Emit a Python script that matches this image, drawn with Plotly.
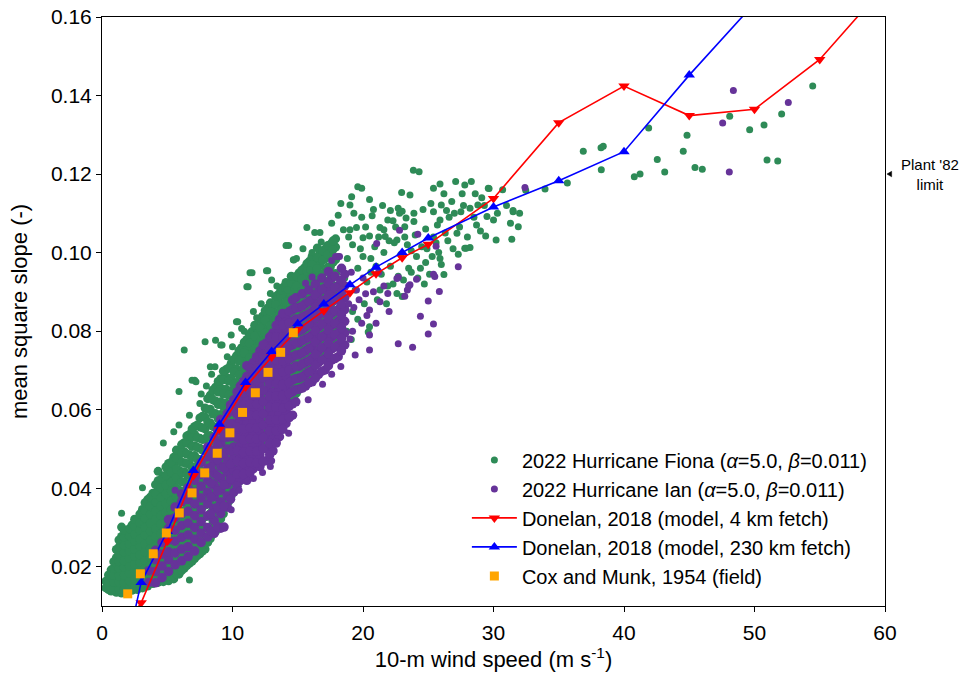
import plotly.graph_objects as go

# ---------------- data ----------------
# Hurricane Fiona, dense part: (wind speed column, list of mss values)
fiona_dense_cols = [
    (0.3, [0.0146, 0.0163]),
    (0.7, [0.0138, 0.0156, 0.0171, 0.0192]),
    (1.1, [0.0135, 0.0152, 0.0170, 0.0186, 0.0207, 0.0223, 0.0244]),
    (1.5, [0.0133, 0.0149, 0.0168, 0.0185, 0.0203, 0.0221, 0.0239, 0.0258, 0.0277, 0.0301]),
    (1.9, [0.0137, 0.0155, 0.0173, 0.0189, 0.0209, 0.0226, 0.0247, 0.0264, 0.0285]),
    (2.3, [0.0140, 0.0156, 0.0176, 0.0193, 0.0214, 0.0231, 0.0252, 0.0269, 0.0291, 0.0306]),
    (2.7, [0.0142, 0.0161, 0.0178, 0.0199, 0.0216, 0.0237, 0.0254, 0.0276, 0.0294, 0.0317]),
    (3.1, [0.0146, 0.0163, 0.0184, 0.0202, 0.0223, 0.0241, 0.0263, 0.0281, 0.0304, 0.0323, 0.0346]),
    (3.5, [0.0151, 0.0168, 0.0190, 0.0208, 0.0230, 0.0248, 0.0270, 0.0289, 0.0312, 0.0331, 0.0355, 0.0371]),
    (3.9, [0.0157, 0.0175, 0.0197, 0.0215, 0.0237, 0.0256, 0.0279, 0.0298, 0.0321, 0.0341, 0.0365, 0.0387]),
    (4.3, [0.0160, 0.0180, 0.0201, 0.0220, 0.0243, 0.0262, 0.0286, 0.0306, 0.0330, 0.0350, 0.0374, 0.0395, 0.0419, 0.0443]),
    (4.7, [0.0162, 0.0184, 0.0204, 0.0228, 0.0248, 0.0272, 0.0292, 0.0317, 0.0338, 0.0363, 0.0384, 0.0409, 0.0431]),
    (5.1, [0.0164, 0.0187, 0.0208, 0.0233, 0.0254, 0.0279, 0.0300, 0.0326, 0.0348, 0.0374, 0.0396, 0.0422, 0.0445, 0.0463]),
    (5.5, [0.0169, 0.0192, 0.0215, 0.0237, 0.0263, 0.0285, 0.0311, 0.0333, 0.0359, 0.0381, 0.0408, 0.0431, 0.0458, 0.0479]),
    (5.9, [0.0181, 0.0202, 0.0228, 0.0250, 0.0276, 0.0298, 0.0324, 0.0346, 0.0372, 0.0395, 0.0422, 0.0445, 0.0472, 0.0495]),
    (6.3, [0.0196, 0.0218, 0.0244, 0.0266, 0.0292, 0.0315, 0.0342, 0.0365, 0.0392, 0.0415, 0.0442, 0.0465, 0.0493, 0.0516]),
    (6.7, [0.0209, 0.0231, 0.0258, 0.0281, 0.0308, 0.0331, 0.0358, 0.0381, 0.0409, 0.0433, 0.0461, 0.0485, 0.0513, 0.0537]),
    (7.1, [0.0221, 0.0245, 0.0273, 0.0297, 0.0325, 0.0349, 0.0377, 0.0401, 0.0429, 0.0454, 0.0483, 0.0508, 0.0537, 0.0557]),
    (7.5, [0.0233, 0.0257, 0.0286, 0.0311, 0.0340, 0.0365, 0.0394, 0.0419, 0.0448, 0.0473, 0.0502, 0.0527, 0.0556, 0.0579]),
    (7.9, [0.0245, 0.0271, 0.0301, 0.0327, 0.0357, 0.0383, 0.0413, 0.0439, 0.0469, 0.0495, 0.0525, 0.0551, 0.0581, 0.0604]),
]

# Hurricane Fiona, dense part, in-between columns
fiona_dense_fill = [
    (0.5, [0.0142, 0.0160, 0.0179]),
    (0.9, [0.0144, 0.0161, 0.0179, 0.0196, 0.0213]),
    (1.3, [0.0142, 0.0161, 0.0177, 0.0196, 0.0213, 0.0232, 0.0249, 0.0268]),
    (1.7, [0.0143, 0.0160, 0.0179, 0.0198, 0.0215, 0.0236, 0.0254, 0.0275, 0.0292]),
    (2.1, [0.0146, 0.0164, 0.0183, 0.0201, 0.0221, 0.0240, 0.0258, 0.0279, 0.0297]),
    (2.5, [0.0149, 0.0167, 0.0188, 0.0206, 0.0226, 0.0244, 0.0265, 0.0283, 0.0303, 0.0321]),
    (2.9, [0.0152, 0.0172, 0.0190, 0.0211, 0.0230, 0.0252, 0.0270, 0.0293, 0.0312, 0.0334]),
    (3.3, [0.0157, 0.0175, 0.0197, 0.0216, 0.0238, 0.0258, 0.0281, 0.0300, 0.0323, 0.0343, 0.0363]),
    (3.7, [0.0161, 0.0181, 0.0204, 0.0224, 0.0247, 0.0267, 0.0291, 0.0310, 0.0334, 0.0353, 0.0377]),
    (4.1, [0.0166, 0.0189, 0.0209, 0.0233, 0.0253, 0.0277, 0.0297, 0.0321, 0.0341, 0.0365, 0.0385, 0.0409]),
    (4.5, [0.0171, 0.0192, 0.0217, 0.0238, 0.0263, 0.0284, 0.0309, 0.0330, 0.0355, 0.0376, 0.0401, 0.0422]),
    (4.9, [0.0174, 0.0198, 0.0220, 0.0245, 0.0267, 0.0292, 0.0314, 0.0339, 0.0361, 0.0386, 0.0408, 0.0433, 0.0454]),
    (5.3, [0.0176, 0.0201, 0.0223, 0.0249, 0.0271, 0.0297, 0.0319, 0.0345, 0.0367, 0.0393, 0.0415, 0.0441, 0.0466]),
    (5.7, [0.0182, 0.0204, 0.0231, 0.0253, 0.0280, 0.0302, 0.0329, 0.0351, 0.0378, 0.0400, 0.0427, 0.0449, 0.0476, 0.0497]),
    (6.1, [0.0190, 0.0216, 0.0239, 0.0266, 0.0289, 0.0316, 0.0339, 0.0366, 0.0389, 0.0416, 0.0439, 0.0466, 0.0489, 0.0511]),
    (6.5, [0.0203, 0.0227, 0.0255, 0.0279, 0.0307, 0.0331, 0.0359, 0.0383, 0.0411, 0.0435, 0.0463, 0.0487, 0.0515, 0.0533]),
    (6.9, [0.0214, 0.0241, 0.0266, 0.0294, 0.0319, 0.0347, 0.0372, 0.0400, 0.0425, 0.0453, 0.0478, 0.0506, 0.0531, 0.0551]),
    (7.3, [0.0228, 0.0254, 0.0284, 0.0309, 0.0339, 0.0364, 0.0394, 0.0419, 0.0449, 0.0474, 0.0504, 0.0529, 0.0561]),
    (7.7, [0.0240, 0.0269, 0.0296, 0.0326, 0.0353, 0.0383, 0.0410, 0.0440, 0.0467, 0.0497, 0.0524, 0.0554, 0.0583]),
]

# Hurricane Fiona, middle part
fiona_mid_cols = [
    (8.3, [0.0272, 0.0301, 0.0336, 0.0368, 0.0402, 0.0433, 0.0467, 0.0499, 0.0534, 0.0566, 0.0601, 0.0637]),
    (8.7, [0.0290, 0.0323, 0.0355, 0.0390, 0.0421, 0.0456, 0.0488, 0.0523, 0.0555, 0.0590, 0.0622, 0.0657]),
    (9.1, [0.0322, 0.0354, 0.0389, 0.0420, 0.0455, 0.0487, 0.0522, 0.0553, 0.0588, 0.0620, 0.0655, 0.0679]),
    (9.5, [0.0351, 0.0385, 0.0416, 0.0451, 0.0483, 0.0518, 0.0550, 0.0585, 0.0617, 0.0652, 0.0683, 0.0702]),
    (9.9, [0.0381, 0.0412, 0.0447, 0.0479, 0.0514, 0.0546, 0.0581, 0.0613, 0.0648, 0.0680, 0.0718]),
    (10.3, [0.0401, 0.0436, 0.0468, 0.0503, 0.0535, 0.0570, 0.0602, 0.0637, 0.0669, 0.0704, 0.0737]),
    (10.7, [0.0431, 0.0463, 0.0498, 0.0530, 0.0565, 0.0597, 0.0632, 0.0664, 0.0699, 0.0731, 0.0758]),
    (11.1, [0.0452, 0.0487, 0.0519, 0.0554, 0.0586, 0.0621, 0.0653, 0.0688, 0.0720, 0.0755, 0.0779]),
    (11.5, [0.0473, 0.0505, 0.0540, 0.0572, 0.0607, 0.0639, 0.0674, 0.0706, 0.0741, 0.0773, 0.0799]),
    (11.9, [0.0492, 0.0527, 0.0559, 0.0594, 0.0626, 0.0661, 0.0693, 0.0728, 0.0760, 0.0795]),
    (12.3, [0.0512, 0.0544, 0.0579, 0.0611, 0.0646, 0.0678, 0.0713, 0.0745, 0.0780, 0.0812, 0.0838]),
    (12.7, [0.0532, 0.0567, 0.0599, 0.0634, 0.0666, 0.0701, 0.0733, 0.0768, 0.0800, 0.0835, 0.0859]),
    (13.1, [0.0553, 0.0585, 0.0620, 0.0652, 0.0687, 0.0719, 0.0754, 0.0786, 0.0821, 0.0853]),
    (13.5, [0.0572, 0.0607, 0.0639, 0.0674, 0.0706, 0.0741, 0.0773, 0.0808, 0.0840, 0.0875, 0.0893]),
    (13.9, [0.0593, 0.0625, 0.0660, 0.0692, 0.0727, 0.0759, 0.0794, 0.0826, 0.0861, 0.0893, 0.0912]),
    (14.3, [0.0612, 0.0647, 0.0679, 0.0714, 0.0746, 0.0781, 0.0813, 0.0848, 0.0880, 0.0915]),
    (14.7, [0.0633, 0.0665, 0.0700, 0.0732, 0.0767, 0.0799, 0.0834, 0.0866, 0.0901, 0.0933]),
    (15.1, [0.0652, 0.0687, 0.0719, 0.0754, 0.0786, 0.0821, 0.0853, 0.0888, 0.0920, 0.0948]),
    (15.5, [0.0672, 0.0704, 0.0739, 0.0771, 0.0806, 0.0838, 0.0873, 0.0905, 0.0940, 0.0961]),
    (15.9, [0.0692, 0.0727, 0.0759, 0.0794, 0.0826, 0.0861, 0.0893, 0.0928, 0.0960, 0.0978]),
    (16.3, [0.0712, 0.0744, 0.0779, 0.0811, 0.0846, 0.0878, 0.0913, 0.0945, 0.0980]),
    (16.7, [0.0732, 0.0767, 0.0799, 0.0834, 0.0866, 0.0901, 0.0933, 0.0968, 0.0997]),
    (17.1, [0.0751, 0.0783, 0.0818, 0.0850, 0.0885, 0.0917, 0.0952, 0.0984, 0.1009]),
    (17.5, [0.0763, 0.0798, 0.0830, 0.0865, 0.0897, 0.0932, 0.0964, 0.0999, 0.1021]),
    (17.9, [0.0781, 0.0813, 0.0848, 0.0880, 0.0915, 0.0947, 0.0982, 0.1014, 0.1035]),
]

# Hurricane Fiona, middle part, in-between columns
fiona_mid_fill = [
    (8.1, [0.0262, 0.0297, 0.0329, 0.0365, 0.0397, 0.0433, 0.0465, 0.0501, 0.0533, 0.0569, 0.0601, 0.0628]),
    (8.5, [0.0284, 0.0317, 0.0353, 0.0385, 0.0421, 0.0453, 0.0489, 0.0521, 0.0557, 0.0589, 0.0625, 0.0650]),
    (8.9, [0.0306, 0.0341, 0.0373, 0.0409, 0.0441, 0.0477, 0.0509, 0.0545, 0.0577, 0.0613, 0.0645, 0.0672]),
    (9.3, [0.0335, 0.0368, 0.0404, 0.0436, 0.0472, 0.0504, 0.0540, 0.0572, 0.0608, 0.0640, 0.0676, 0.0698]),
    (9.7, [0.0366, 0.0401, 0.0433, 0.0469, 0.0501, 0.0537, 0.0569, 0.0605, 0.0637, 0.0673, 0.0706]),
    (10.1, [0.0392, 0.0425, 0.0461, 0.0493, 0.0529, 0.0561, 0.0597, 0.0629, 0.0665, 0.0697, 0.0728]),
    (10.5, [0.0417, 0.0452, 0.0484, 0.0520, 0.0552, 0.0588, 0.0620, 0.0656, 0.0688, 0.0724, 0.0750]),
    (10.9, [0.0440, 0.0473, 0.0509, 0.0541, 0.0577, 0.0609, 0.0645, 0.0677, 0.0713, 0.0745, 0.0772]),
    (11.3, [0.0462, 0.0497, 0.0529, 0.0565, 0.0597, 0.0633, 0.0665, 0.0701, 0.0733, 0.0769, 0.0792]),
    (11.7, [0.0482, 0.0515, 0.0551, 0.0583, 0.0619, 0.0651, 0.0687, 0.0719, 0.0755, 0.0787, 0.0815]),
    (12.1, [0.0502, 0.0537, 0.0569, 0.0605, 0.0637, 0.0673, 0.0705, 0.0741, 0.0773, 0.0809, 0.0830]),
    (12.5, [0.0522, 0.0555, 0.0591, 0.0623, 0.0659, 0.0691, 0.0727, 0.0759, 0.0795, 0.0827, 0.0852]),
    (12.9, [0.0543, 0.0578, 0.0610, 0.0646, 0.0678, 0.0714, 0.0746, 0.0782, 0.0814, 0.0850, 0.0872]),
    (13.3, [0.0563, 0.0596, 0.0632, 0.0664, 0.0700, 0.0732, 0.0768, 0.0800, 0.0836, 0.0868, 0.0888]),
    (13.7, [0.0583, 0.0618, 0.0650, 0.0686, 0.0718, 0.0754, 0.0786, 0.0822, 0.0854, 0.0890, 0.0905]),
    (14.1, [0.0602, 0.0635, 0.0671, 0.0703, 0.0739, 0.0771, 0.0807, 0.0839, 0.0875, 0.0906, 0.0924]),
    (14.5, [0.0622, 0.0657, 0.0689, 0.0725, 0.0757, 0.0793, 0.0825, 0.0861, 0.0893, 0.0922, 0.0940]),
    (14.9, [0.0642, 0.0675, 0.0711, 0.0743, 0.0779, 0.0811, 0.0847, 0.0879, 0.0915, 0.0940]),
    (15.3, [0.0662, 0.0697, 0.0729, 0.0765, 0.0797, 0.0833, 0.0865, 0.0901, 0.0933, 0.0955]),
    (15.7, [0.0682, 0.0715, 0.0751, 0.0783, 0.0819, 0.0851, 0.0887, 0.0919, 0.0952, 0.0972]),
    (16.1, [0.0702, 0.0737, 0.0769, 0.0805, 0.0837, 0.0873, 0.0905, 0.0941, 0.0970, 0.0990]),
    (16.5, [0.0722, 0.0755, 0.0791, 0.0823, 0.0859, 0.0891, 0.0927, 0.0959, 0.0988, 0.1012]),
    (16.9, [0.0742, 0.0777, 0.0809, 0.0845, 0.0877, 0.0913, 0.0945, 0.0981, 0.1005]),
    (17.3, [0.0758, 0.0791, 0.0827, 0.0859, 0.0895, 0.0927, 0.0963, 0.0995, 0.1018]),
    (17.7, [0.0772, 0.0807, 0.0839, 0.0875, 0.0907, 0.0943, 0.0975, 0.1008, 0.1030]),
]

# Hurricane Fiona, sparse points (u, mss)
fiona_sparse = [
    (1.5, 0.0336), (3.1, 0.0401), (4.7, 0.0515), (5.5, 0.0544), (5.9, 0.0561), (5.9, 0.0646),
    (6.3, 0.0752), (6.7, 0.0586), (6.7, 0.0166), (7.1, 0.0675), (7.5, 0.0616), (7.9, 0.0773),
    (8.3, 0.0709), (8.7, 0.0777), (9.1, 0.0765), (9.9, 0.0790), (10.3, 0.0824), (10.7, 0.0807),
    (11.1, 0.0913), (11.5, 0.0949), (12.7, 0.0954), (14.3, 0.1018), (14.7, 0.0981), (16.3, 0.1051),
    (8.0, 0.0660), (8.4, 0.0690), (9.6, 0.0735), (10.0, 0.0760), (10.9, 0.0800), (11.6, 0.0850),
    (12.2, 0.0870), (13.0, 0.0930), (13.4, 0.0915), (14.9, 0.0985), (15.4, 0.1010), (7.6, 0.0640),
    (15.7, 0.1064), (16.7, 0.1051), (17.6, 0.1075), (18.3, 0.1125), (18.5, 0.1058),
    (19.0, 0.1121), (19.0, 0.1058), (19.13, 0.1142), (19.5, 0.1064), (19.6, 0.1168),
    (19.9, 0.1164), (20.0, 0.1038), (20.5, 0.1135), (20.5, 0.1042), (20.7, 0.1094),
    (21.3, 0.1064), (21.6, 0.1058), (21.7, 0.1041), (21.9, 0.1083), (22.1, 0.1107),
    (22.3, 0.1081), (22.6, 0.1032), (22.7, 0.1113), (22.8, 0.1100), (22.96, 0.1153),
    (23.2, 0.1066), (23.3, 0.1088), (23.6, 0.1147), (23.86, 0.1210), (23.9, 0.1079),
    (24.3, 0.1206), (25.4, 0.1164), (25.4, 0.1104), (25.9, 0.1175), (25.9, 0.1083),
    (26.0, 0.1121), (26.4, 0.1107), (27.0, 0.1100), (27.1, 0.1181), (27.2, 0.1049),
    (27.5, 0.1104), (27.8, 0.1172), (28.2, 0.1113), (28.3, 0.1181), (28.7, 0.1070),
    (28.8, 0.1121), (29.4, 0.1042), (29.5, 0.1092), (29.6, 0.1164), (30.0, 0.1083),
    (30.2, 0.1032), (31.3, 0.1075), (31.4, 0.1034), (31.5, 0.1104), (31.5, 0.1107),
    (31.9, 0.1066), (27.8, 0.1011), (28.2, 0.1013), (27.3, 0.0996), (25.8, 0.1000),
    (24.4, 0.0960), (24.8, 0.0975), (25.3, 0.0990), (25.9, 0.0985), (26.2, 0.0944),
    (22.6, 0.0896), (23.0, 0.0888), (21.3, 0.0905), (20.5, 0.0811), (20.4, 0.0798),
    (18.75, 0.0800), (19.1, 0.0779), (27.9, 0.1011),
    (18.3, 0.0830), (18.4, 0.0880), (18.6, 0.0935), (18.8, 0.0985), (19.2, 0.0850),
    (19.4, 0.0905), (19.6, 0.0960), (19.8, 0.1010), (20.1, 0.0870), (20.3, 0.0925),
    (20.6, 0.0985), (20.9, 0.1015), (21.1, 0.0880), (21.4, 0.0945), (21.6, 0.1000),
    (21.9, 0.0915), (22.1, 0.0965), (22.4, 0.1025), (22.7, 0.0940), (22.9, 0.0995),
    (23.2, 0.1040), (23.5, 0.0960), (23.7, 0.1005), (24.0, 0.1045), (24.2, 0.0935),
    (24.5, 0.1015), (24.8, 0.1060), (25.1, 0.0945), (25.4, 0.1040), (25.7, 0.1070),
    (26.0, 0.0970), (26.3, 0.1050), (26.6, 0.1090), (26.9, 0.1010), (27.4, 0.1065),
    (27.7, 0.1120), (28.0, 0.1040), (28.5, 0.1090), (29.0, 0.1055), (29.1, 0.1140),
    (30.3, 0.1100), (30.7, 0.1160), (31.0, 0.1120), (32.0, 0.1100),
    (18.1, 0.1095), (18.9, 0.1040), (19.3, 0.1100), (19.9, 0.1090), (20.2, 0.1065),
    (20.8, 0.1110), (21.0, 0.0965), (21.5, 0.1120), (22.0, 0.1030), (22.5, 0.1065),
    (23.0, 0.1105), (23.4, 0.1020), (23.9, 0.1100), (24.1, 0.0990), (24.6, 0.1110),
    (24.9, 0.1010), (25.2, 0.1125), (25.6, 0.1025), (26.2, 0.1150), (26.5, 0.1030),
    (26.8, 0.1130), (27.6, 0.1150), (28.6, 0.1150), (29.3, 0.1120), (18.0, 0.0900),
    (18.6, 0.0860), (19.6, 0.0830), (20.6, 0.0950), (21.8, 0.0870), (22.3, 0.0920),
    (23.1, 0.0930), (23.7, 0.0950), (24.7, 0.0920), (21.2, 0.1040), (20.0, 0.0990),
    (19.2, 0.1020),
    (29.66, 0.1163), (32.47, 0.1159), (33.95, 0.1162), (35.66, 0.1177), (36.88, 0.1258),
    (38.24, 0.1267), (38.41, 0.1271), (38.26, 0.1211), (40.79, 0.1193), (41.23, 0.1200),
    (41.89, 0.1317), (42.55, 0.1237), (43.12, 0.1205), (44.54, 0.1258), (44.83, 0.1299),
    (45.44, 0.1217), (46.0, 0.1212), (48.1, 0.1347), (49.63, 0.1313), (50.73, 0.1325),
    (50.96, 0.1236), (51.78, 0.1233), (52.08, 0.1353), (54.46, 0.1424),
    (6.9, 0.0675), (7.2, 0.0671), (8.66, 0.0709), (9.2, 0.0765), (10.4, 0.0824),
    (11.2, 0.0913), (11.34, 0.0949), (11.85, 0.0834), (12.6, 0.0954), (12.9, 0.0896),
    (14.1, 0.1018), (14.2, 0.0905), (14.66, 0.0982), (15.9, 0.0956), (16.1, 0.1000),
    (16.8, 0.1027),
]

# Hurricane Ian, band below the model curves
ian_cols = [
    (3.6, [0.0160, 0.0190]),
    (4.1, [0.0159, 0.0188, 0.0218, 0.0242]),
    (4.6, [0.0172, 0.0202, 0.0232, 0.0262]),
    (5.1, [0.0188, 0.0218, 0.0238, 0.0268, 0.0298, 0.0320]),
    (5.6, [0.0205, 0.0235, 0.0265, 0.0293, 0.0325, 0.0352]),
    (6.1, [0.0215, 0.0245, 0.0275, 0.0305, 0.0335, 0.0365, 0.0385]),
    (6.6, [0.0226, 0.0251, 0.0281, 0.0311, 0.0341, 0.0371, 0.0401]),
    (7.1, [0.0240, 0.0270, 0.0300, 0.0330, 0.0360, 0.0390, 0.0420, 0.0440]),
    (7.6, [0.0262, 0.0285, 0.0315, 0.0345, 0.0375, 0.0405, 0.0435, 0.0465]),
    (8.1, [0.0276, 0.0300, 0.0330, 0.0360, 0.0390, 0.0420, 0.0450, 0.0480, 0.0505]),
    (8.6, [0.0285, 0.0318, 0.0348, 0.0378, 0.0408, 0.0438, 0.0468, 0.0498, 0.0530]),
    (9.1, [0.0298, 0.0335, 0.0365, 0.0395, 0.0425, 0.0455, 0.0485, 0.0515, 0.0545, 0.0575]),
    (9.6, [0.0352, 0.0380, 0.0410, 0.0440, 0.0470, 0.0500, 0.0530, 0.0560, 0.0590]),
    (10.1, [0.0390, 0.0420, 0.0446, 0.0475, 0.0505, 0.0535, 0.0565, 0.0595, 0.0625]),
    (10.6, [0.0420, 0.0450, 0.0480, 0.0510, 0.0540, 0.0570, 0.0600, 0.0630, 0.0660]),
    (11.1, [0.0420, 0.0446, 0.0475, 0.0505, 0.0535, 0.0565, 0.0595, 0.0625, 0.0655, 0.0685, 0.0712]),
    (11.6, [0.0450, 0.0480, 0.0510, 0.0540, 0.0570, 0.0600, 0.0630, 0.0660, 0.0690, 0.0720]),
    (12.1, [0.0455, 0.0485, 0.0515, 0.0545, 0.0575, 0.0605, 0.0635, 0.0665, 0.0695, 0.0725, 0.0750]),
    (12.6, [0.0470, 0.0500, 0.0533, 0.0560, 0.0590, 0.0620, 0.0650, 0.0680, 0.0710, 0.0740, 0.0770]),
    (13.1, [0.0495, 0.0525, 0.0555, 0.0585, 0.0615, 0.0645, 0.0675, 0.0705, 0.0735, 0.0765, 0.0795]),
    (13.6, [0.0531, 0.0560, 0.0590, 0.0620, 0.0650, 0.0680, 0.0710, 0.0740, 0.0770, 0.0800, 0.0830]),
    (14.1, [0.0565, 0.0595, 0.0625, 0.0655, 0.0685, 0.0715, 0.0745, 0.0775, 0.0805, 0.0835]),
    (14.6, [0.0586, 0.0615, 0.0645, 0.0675, 0.0705, 0.0735, 0.0765, 0.0795, 0.0825, 0.0855, 0.0879]),
    (15.1, [0.0652, 0.0680, 0.0710, 0.0740, 0.0770, 0.0800, 0.0830, 0.0860]),
    (15.6, [0.0660, 0.0690, 0.0720, 0.0750, 0.0780, 0.0810, 0.0840, 0.0870]),
    (16.1, [0.0671, 0.0700, 0.0730, 0.0760, 0.0790, 0.0820, 0.0850, 0.0880]),
    (16.6, [0.0690, 0.0720, 0.0750, 0.0780, 0.0810, 0.0840, 0.0870, 0.0900]),
    (17.1, [0.0701, 0.0730, 0.0760, 0.0790, 0.0820, 0.0850, 0.0880, 0.0910]),
    (17.6, [0.0726, 0.0755, 0.0785, 0.0815, 0.0845, 0.0875, 0.0905, 0.0935]),
    (18.1, [0.0735, 0.0765, 0.0795, 0.0825, 0.0855, 0.0885, 0.0915]),
    (18.6, [0.0765, 0.0795, 0.0825, 0.0855, 0.0885, 0.0915, 0.0945]),
]

# Hurricane Ian, in-between columns
ian_fill = [
    (8.35, [0.0290, 0.0334, 0.0377, 0.0413, 0.0454, 0.0490]),
    (8.85, [0.0302, 0.0351, 0.0393, 0.0431, 0.0473, 0.0511, 0.0548]),
    (9.35, [0.0301, 0.0354, 0.0409, 0.0451, 0.0489, 0.0531, 0.0569]),
    (9.85, [0.0372, 0.0424, 0.0461, 0.0494, 0.0531, 0.0564, 0.0601, 0.0612]),
    (10.35, [0.0405, 0.0436, 0.0468, 0.0496, 0.0528, 0.0556, 0.0588, 0.0616, 0.0645]),
    (10.85, [0.0435, 0.0463, 0.0491, 0.0523, 0.0551, 0.0583, 0.0611, 0.0643, 0.0672]),
    (11.35, [0.0440, 0.0466, 0.0494, 0.0526, 0.0554, 0.0586, 0.0614, 0.0646, 0.0674, 0.0705]),
    (11.85, [0.0465, 0.0494, 0.0526, 0.0554, 0.0586, 0.0614, 0.0646, 0.0674, 0.0706, 0.0735]),
    (12.35, [0.0468, 0.0501, 0.0529, 0.0561, 0.0589, 0.0621, 0.0649, 0.0681, 0.0709, 0.0741, 0.0765]),
    (12.85, [0.0485, 0.0514, 0.0546, 0.0574, 0.0606, 0.0634, 0.0666, 0.0694, 0.0726, 0.0754, 0.0785]),
    (13.35, [0.0515, 0.0546, 0.0574, 0.0606, 0.0634, 0.0666, 0.0694, 0.0726, 0.0754, 0.0786, 0.0815]),
    (13.85, [0.0550, 0.0576, 0.0604, 0.0636, 0.0664, 0.0696, 0.0724, 0.0756, 0.0784, 0.0816, 0.0845]),
    (14.35, [0.0580, 0.0609, 0.0641, 0.0669, 0.0701, 0.0729, 0.0761, 0.0789, 0.0821, 0.0850]),
    (14.85, [0.0620, 0.0651, 0.0679, 0.0711, 0.0739, 0.0771, 0.0799, 0.0831, 0.0859, 0.0885]),
    (15.35, [0.0655, 0.0684, 0.0716, 0.0744, 0.0776, 0.0804, 0.0836, 0.0864, 0.0895]),
    (15.85, [0.0668, 0.0696, 0.0724, 0.0756, 0.0784, 0.0816, 0.0844, 0.0876, 0.0905]),
    (16.35, [0.0680, 0.0713, 0.0741, 0.0773, 0.0801, 0.0833, 0.0861, 0.0893, 0.0920]),
    (16.85, [0.0698, 0.0726, 0.0758, 0.0786, 0.0818, 0.0846, 0.0878, 0.0906, 0.0935]),
    (17.35, [0.0712, 0.0743, 0.0771, 0.0803, 0.0831, 0.0863, 0.0891, 0.0923, 0.0952]),
    (17.85, [0.0730, 0.0759, 0.0791, 0.0819, 0.0851, 0.0879, 0.0911, 0.0940]),
    (18.35, [0.0750, 0.0781, 0.0809, 0.0841, 0.0869, 0.0901, 0.0929, 0.0960]),
]

ian_sparse = [
    (5.6, 0.0395), (12.9, 0.0455), (15.6, 0.0922), (16.1, 0.0938), (17.6, 0.0980), (18.1, 0.0990),
    (10.5, 0.0395), (11.6, 0.0425), (13.0, 0.0470), (14.3, 0.0540), (15.8, 0.0625),
    (16.9, 0.0665), (18.3, 0.0710), (17.6, 0.0690), (12.3, 0.0440), (9.9, 0.0345),
    (19.4, 0.0739), (19.2, 0.0800), (19.3, 0.0860), (19.5, 0.0905), (19.1, 0.0950),
    (20.5, 0.0752), (20.5, 0.0790), (20.3, 0.0840), (20.5, 0.0854), (20.2, 0.0895),
    (20.0, 0.0935), (21.05, 0.1023), (21.3, 0.0875), (21.0, 0.0820), (21.6, 0.0915),
    (21.9, 0.0896), (22.0, 0.0850), (22.7, 0.0768), (22.7, 0.0937), (22.6, 0.0934),
    (22.8, 0.1057), (23.2, 0.0889), (23.4, 0.0905), (23.5, 0.0915), (23.6, 0.0918),
    (23.8, 0.0759), (24.1, 0.0932), (24.2, 0.1047), (24.4, 0.0838), (25.0, 0.0793),
    (25.0, 0.0877), (25.4, 0.0818), (25.4, 0.0945), (25.5, 0.0939), (25.6, 0.1016),
    (25.85, 0.0901), (27.3, 0.0964), (17.8, 0.0890), (18.2, 0.0930), (18.9, 0.0870),
    (19.7, 0.0880), (19.9, 0.0820), (20.8, 0.0900), (21.2, 0.0950), (19.0, 0.0780),
    (17.9, 0.0990), (18.2, 0.0990),
    (32.41, 0.1166), (47.56, 0.1330), (48.38, 0.1413), (48.07, 0.1205), (52.59, 0.1382),
]

# Donelan 2018 model curves
don4_u = [2, 3, 5, 7, 9, 11, 13, 15, 17, 19, 21, 23, 25, 30, 35, 40, 45, 50, 55, 60]
don4_mss = [0.0060, 0.0108, 0.0265, 0.0432, 0.0551, 0.0658, 0.0734, 0.0804, 0.0852, 0.0898,
            0.0946, 0.0987, 0.1021, 0.1138, 0.1331, 0.1424, 0.1349, 0.1365, 0.1492, 0.1680]
don230_u = [2, 3, 5, 7, 9, 11, 13, 15, 17, 19, 21, 23, 25, 30, 35, 40, 45, 50]
don230_mss = [0.0010, 0.0160, 0.0290, 0.0445, 0.0563, 0.0669, 0.0748, 0.0819, 0.0869, 0.0918,
              0.0963, 0.1000, 0.1037, 0.1116, 0.1183, 0.1257, 0.1452, 0.1635]

# Cox and Munk 1954
cm_u = [1.97, 2.94, 3.93, 4.93, 5.92, 6.90, 7.87, 8.83, 9.80, 10.77, 11.75, 12.72, 13.69, 14.66]
cm_mss = [0.0131, 0.0182, 0.0233, 0.0286, 0.0337, 0.0388, 0.0439, 0.0489, 0.0541, 0.0593,
          0.0643, 0.0695, 0.0746, 0.0796]

x_ticks = [0, 10, 20, 30, 40, 50, 60]
y_ticks = [0.02, 0.04, 0.06, 0.08, 0.10, 0.12, 0.14, 0.16]

# ---------------- assemble ----------------
def flatten(cols, pairs):
    xs, ys = [], []
    for u, vals in cols:
        for v in vals:
            xs.append(u)
            ys.append(v)
    for u, v in pairs:
        xs.append(u)
        ys.append(v)
    return xs, ys

fdx, fdy = flatten(fiona_dense_cols + fiona_dense_fill + fiona_mid_cols + fiona_mid_fill, [])
fsx, fsy = flatten([], fiona_sparse)
idx, idy = flatten(ian_cols + ian_fill, [])
isx, isy = flatten([], ian_sparse)

GREEN = "#2E8B57"
PURPLE = "#663399"
FONT = "Liberation Sans, Arial, Helvetica, sans-serif"
NAME_F = "2022 Hurricane Fiona (<i>α</i>=5.0, <i>β</i>=0.011)"
NAME_I = "2022 Hurricane Ian (<i>α</i>=5.0, <i>β</i>=0.011)"

fig = go.Figure()
fig.add_trace(go.Scatter(x=fdx, y=fdy, mode="markers", name=NAME_F, legendgroup="f", showlegend=False,
                         marker=dict(color=GREEN, size=9, line=dict(width=0))))
fig.add_trace(go.Scatter(x=fsx, y=fsy, mode="markers", name=NAME_F, legendgroup="f",
                         marker=dict(color=GREEN, size=7, line=dict(width=0))))
fig.add_trace(go.Scatter(x=idx, y=idy, mode="markers", name=NAME_I, legendgroup="i", showlegend=False,
                         marker=dict(color=PURPLE, size=9.5, line=dict(width=0))))
fig.add_trace(go.Scatter(x=isx, y=isy, mode="markers", name=NAME_I, legendgroup="i",
                         marker=dict(color=PURPLE, size=7, line=dict(width=0))))
fig.add_trace(go.Scatter(x=don4_u, y=don4_mss, mode="lines+markers", name="Donelan, 2018 (model, 4 km fetch)",
                         legendgroup="r",
                         line=dict(color="red", width=1.6),
                         marker=dict(symbol="triangle-down", size=10, color="red")))
fig.add_trace(go.Scatter(x=don230_u, y=don230_mss, mode="lines+markers", name="Donelan, 2018 (model, 230 km fetch)",
                         legendgroup="b",
                         line=dict(color="blue", width=1.6),
                         marker=dict(symbol="triangle-up", size=10, color="blue")))
fig.add_trace(go.Scatter(x=cm_u, y=cm_mss, mode="markers", name="Cox and Munk, 1954 (field)",
                         legendgroup="c",
                         marker=dict(symbol="square", size=9, color="#FFA500", line=dict(width=0))))

# Plant '82 limit marker just outside the right axis
fig.add_shape(type="path", xref="paper", yref="y",
              path="M 1.0025,0.12 L 1.0085,0.1207 L 1.0085,0.1193 Z",
              fillcolor="black", line=dict(color="black", width=0.5))
fig.add_annotation(xref="paper", yref="y", x=1.057, y=0.12, text="Plant '82<br>limit",
                   showarrow=False, font=dict(family=FONT, size=15, color="black"),
                   xanchor="center", yanchor="middle", align="center")

axis_common = dict(showline=True, linecolor="black", linewidth=1, mirror=True, ticks="outside",
                   ticklen=5, tickcolor="black", showgrid=False, zeroline=False, automargin=False,
                   tickfont=dict(family=FONT, size=21, color="black"))
fig.update_xaxes(range=[0, 60], tickvals=x_ticks, ticktext=[str(t) for t in x_ticks],
                 ticklabelstandoff=3,
                 title=dict(text="10-m wind speed (m s<sup>-1</sup>)", font=dict(family=FONT, size=22, color="black"),
                            standoff=8), **axis_common)
fig.update_yaxes(range=[0.01, 0.16], tickvals=y_ticks, ticktext=[f"{t:.2f}" for t in y_ticks],
                 title=dict(text="mean square slope (-)", font=dict(family=FONT, size=22, color="black"),
                            standoff=17), **axis_common)

fig.update_layout(
    width=963, height=673,
    margin=dict(l=102, r=78, t=17, b=67, autoexpand=False),
    plot_bgcolor="white", paper_bgcolor="white",
    font=dict(family=FONT, color="black"),
    legend=dict(x=0.466, y=0.018, xanchor="left", yanchor="bottom", bgcolor="rgba(255,255,255,0)",
                font=dict(family=FONT, size=20, color="black"), itemwidth=45, tracegroupgap=0,
                traceorder="normal"),
    showlegend=True,
)

fig.write_html("out.html")
